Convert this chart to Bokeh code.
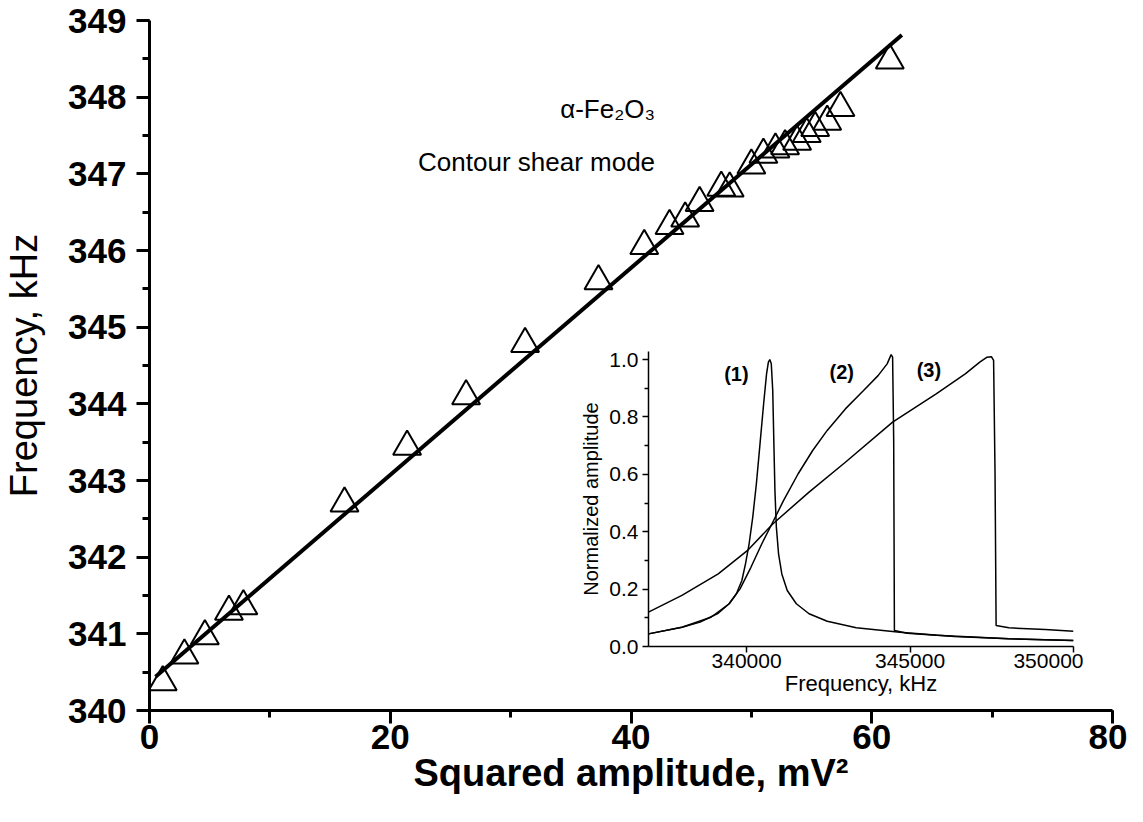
from bokeh.plotting import figure
from bokeh.models import (Range1d, SingleIntervalTicker, FixedTicker, Label,
                          NumeralTickFormatter, BasicTickFormatter)
from bokeh.embed import file_html
from bokeh.resources import INLINE

# ---------------- main data ----------------
sq_amp = [1.1, 2.9, 4.6, 6.6, 7.8, 16.2, 21.4, 26.3, 31.2, 37.3, 41.1, 43.2, 44.5,
          45.7, 47.5, 48.2, 50.0, 51.0, 52.0, 52.8, 53.8, 54.6, 55.3, 56.3, 57.4, 61.5]
freq_khz = [340.37, 340.72, 340.97, 341.29, 341.36, 342.70, 343.44, 344.10, 344.78,
            345.60, 346.06, 346.32, 346.42, 346.62, 346.82, 346.81, 347.11, 347.25,
            347.32, 347.36, 347.42, 347.52, 347.60, 347.68, 347.86, 348.48]
fit_x = [0.5, 62.5]
fit_y = [340.44, 348.81]

# ---------------- inset data ----------------
f1 = [337000, 338022, 338578, 339133, 339467, 339689, 339856, 339967, 340078, 340189,
      340300, 340411, 340522, 340611, 340667, 340711, 340756, 340800, 340833, 340867,
      340911, 340978, 341078, 341244, 341522, 341911, 342467, 343356, 344689, 346356,
      348022, 350000]
a1 = [0.044, 0.067, 0.085, 0.116, 0.149, 0.184, 0.230, 0.288, 0.358, 0.451,
      0.567, 0.706, 0.846, 0.950, 0.991, 1.000, 0.985, 0.892, 0.718, 0.544,
      0.416, 0.323, 0.253, 0.195, 0.149, 0.114, 0.088, 0.065, 0.050, 0.035,
      0.027, 0.021]
f2 = [337000, 338022, 338911, 339467, 339800, 340133, 340467, 340800, 341133, 341578,
      342022, 342467, 343022, 343578, 344022, 344300, 344422, 344467, 344500, 344522,
      344911, 345800, 346911, 348022, 350000]
a2 = [0.044, 0.067, 0.102, 0.149, 0.201, 0.276, 0.358, 0.433, 0.509, 0.602,
      0.683, 0.753, 0.828, 0.892, 0.944, 0.985, 1.017, 1.008, 0.718, 0.056,
      0.046, 0.039, 0.033, 0.027, 0.021]
f3 = [337000, 338022, 339133, 340022, 340800, 341911, 343022, 344467, 345800, 346689,
      347133, 347356, 347489, 347556, 347600, 347633, 348022, 349133, 350000]
a3 = [0.120, 0.178, 0.253, 0.334, 0.427, 0.538, 0.642, 0.782, 0.880, 0.950,
      0.991, 1.008, 1.010, 0.997, 0.602, 0.073, 0.065, 0.059, 0.053]
curve_labels = ["(1)", "(2)", "(3)"]
curve_label_f = [339689, 342911, 345578]
curve_label_a = [0.95, 0.956, 0.962]

FONT = "Liberation Sans"

# ---------------- main figure ----------------
main = figure(width=1127, height=806, x_range=Range1d(0, 80), y_range=Range1d(340, 349),
              output_backend="svg", toolbar_location=None,
              min_border_left=144, min_border_right=15, min_border_top=20,
              min_border_bottom=96)
main.outline_line_color = None
main.grid.visible = False

xa = main.xaxis[0]
xa.ticker = SingleIntervalTicker(interval=20, num_minor_ticks=2)
ya = main.yaxis[0]
ya.ticker = SingleIntervalTicker(interval=1, num_minor_ticks=2)
for ax in (xa, ya):
    ax.axis_line_width = 3
    ax.major_tick_line_width = 3
    ax.minor_tick_line_width = 3
    ax.major_tick_in = 0
    ax.major_tick_out = 13
    ax.minor_tick_in = 0
    ax.minor_tick_out = 7
    ax.major_label_text_font = FONT
    ax.major_label_text_font_style = "bold"
    ax.major_label_text_font_size = "35px"
    ax.major_label_text_color = "black"
    ax.axis_label_text_font = FONT
    ax.axis_label_text_color = "black"
xa.axis_label = "Squared amplitude, mV²"
xa.axis_label_text_font_style = "bold"
xa.axis_label_text_font_size = "38px"
xa.axis_label_standoff = 0
xa.major_label_standoff = 1
ya.axis_label = "Frequency, kHz"
ya.axis_label_text_font_style = "normal"
ya.axis_label_text_font_size = "38px"
ya.major_label_standoff = 10
ya.axis_label_standoff = 20

main.scatter(sq_amp, freq_khz, marker="triangle", size=28, fill_color=None,
             line_color="black", line_width=2)
main.line(fit_x, fit_y, line_color="black", line_width=4)

main.add_layout(Label(x=42.0, y=347.84, text="α-Fe₂O₃", text_align="right",
                      text_baseline="middle", text_font=FONT, text_font_size="26px",
                      text_color="black"))
main.add_layout(Label(x=42.0, y=347.15, text="Contour shear mode", text_align="right",
                      text_baseline="middle", text_font=FONT, text_font_size="26px",
                      text_color="black"))

# ---------------- inset figure ----------------
inset = figure(width=506, height=362, x_range=Range1d(337000, 350000),
               y_range=Range1d(0, 1.028), output_backend="svg", toolbar_location=None,
               min_border_left=68, min_border_right=10, min_border_top=10,
               min_border_bottom=57)
inset.styles = {"position": "absolute", "left": "577px", "top": "341px"}
inset.background_fill_color = None
inset.border_fill_color = None
inset.outline_line_color = None
inset.grid.visible = False

ixa = inset.xaxis[0]
ixa.ticker = FixedTicker(ticks=[340000, 345000, 350000])
ixa.formatter = BasicTickFormatter(use_scientific=False)
iya = inset.yaxis[0]
iya.ticker = FixedTicker(ticks=[0, 0.2, 0.4, 0.6, 0.8, 1.0],
                         minor_ticks=[0.1, 0.3, 0.5, 0.7, 0.9])
iya.formatter = NumeralTickFormatter(format="0.0")
for ax in (ixa, iya):
    ax.axis_line_width = 1.5
    ax.major_tick_line_width = 1.5
    ax.minor_tick_line_width = 1.5
    ax.major_tick_in = 0
    ax.major_tick_out = 6
    ax.minor_tick_in = 0
    ax.minor_tick_out = 4
    ax.major_label_text_font = FONT
    ax.major_label_text_font_size = "21px"
    ax.major_label_text_color = "black"
    ax.axis_label_text_font = FONT
    ax.axis_label_text_font_style = "normal"
    ax.axis_label_text_color = "black"
ixa.major_label_standoff = 1
ixa.axis_label_standoff = 0
iya.major_label_standoff = 4
iya.axis_label_standoff = 4
ixa.axis_label = "Frequency, kHz"
ixa.axis_label_text_font_size = "22px"
iya.axis_label = "Normalized amplitude"
iya.axis_label_text_font_size = "20px"

for fx, ay in ((f1, a1), (f2, a2), (f3, a3)):
    inset.line(fx, ay, line_color="black", line_width=1.5)

for t, fx, ay in zip(curve_labels, curve_label_f, curve_label_a):
    inset.add_layout(Label(x=fx, y=ay, text=t, text_align="center", text_baseline="middle",
                           text_font=FONT, text_font_style="bold", text_font_size="20px",
                           text_color="black"))

p = [main, inset]
open("out.html", "w").write(file_html(p, INLINE, title="plot"))
